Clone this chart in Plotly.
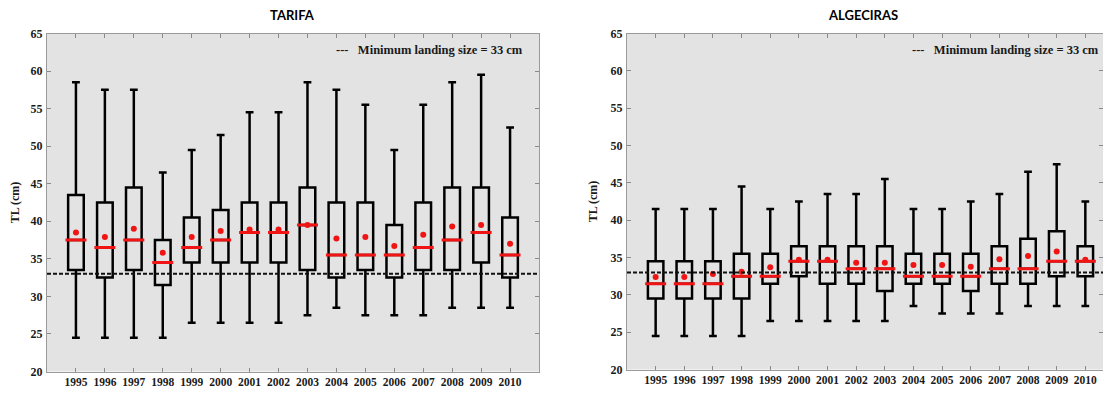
import plotly.graph_objects as go

# ---------------- data ----------------
YEARS = [1995, 1996, 1997, 1998, 1999, 2000, 2001, 2002,
         2003, 2004, 2005, 2006, 2007, 2008, 2009, 2010]

TARIFA_LOW = [24.5, 24.5, 24.5, 24.5, 26.5, 26.5, 26.5, 26.5,
              27.5, 28.5, 27.5, 27.5, 27.5, 28.5, 28.5, 28.5]
TARIFA_Q1 = [33.5, 32.5, 33.5, 31.5, 34.5, 34.5, 34.5, 34.5,
             33.5, 32.5, 33.5, 32.5, 33.5, 33.5, 34.5, 32.5]
TARIFA_MED = [37.5, 36.5, 37.5, 34.5, 36.5, 37.5, 38.5, 38.5,
              39.5, 35.5, 35.5, 35.5, 36.5, 37.5, 38.5, 35.5]
TARIFA_Q3 = [43.5, 42.5, 44.5, 37.5, 40.5, 41.5, 42.5, 42.5,
             44.5, 42.5, 42.5, 39.5, 42.5, 44.5, 44.5, 40.5]
TARIFA_HIGH = [58.5, 57.5, 57.5, 46.5, 49.5, 51.5, 54.5, 54.5,
               58.5, 57.5, 55.5, 49.5, 55.5, 58.5, 59.5, 52.5]
TARIFA_MEAN = [38.5, 37.9, 39.0, 35.8, 37.9, 38.7, 38.9, 38.9,
               39.5, 37.7, 37.9, 36.7, 38.2, 39.3, 39.5, 37.0]

ALG_LOW = [24.5, 24.5, 24.5, 24.5, 26.5, 26.5, 26.5, 26.5,
           26.5, 28.5, 27.5, 27.5, 27.5, 28.5, 28.5, 28.5]
ALG_Q1 = [29.5, 29.5, 29.5, 29.5, 31.5, 32.5, 31.5, 31.5,
          30.5, 31.5, 31.5, 30.5, 31.5, 31.5, 32.5, 32.5]
ALG_MED = [31.5, 31.5, 31.5, 32.5, 32.5, 34.5, 34.5, 33.5,
           33.5, 32.5, 32.5, 32.5, 33.5, 33.5, 34.5, 34.5]
ALG_Q3 = [34.5, 34.5, 34.5, 35.5, 35.5, 36.5, 36.5, 36.5,
          36.5, 35.5, 35.5, 35.5, 36.5, 37.5, 38.5, 36.5]
ALG_HIGH = [41.5, 41.5, 41.5, 44.5, 41.5, 42.5, 43.5, 43.5,
            45.5, 41.5, 41.5, 42.5, 43.5, 46.5, 47.5, 42.5]
ALG_MEAN = [32.4, 32.4, 32.8, 33.1, 33.7, 34.7, 34.7, 34.3,
            34.3, 34.0, 34.0, 33.75, 34.75, 35.2, 35.8, 34.7]

MIN_LANDING_SIZE = 33
PANEL_TITLES = ["TARIFA", "ALGECIRAS"]
Y_TITLE = "TL (cm)"
REF_LABEL = "Minimum landing size = 33 cm"

# ---------------- style ----------------
PAGE_MARGIN = 8                      # default body margin of the html page
W, H = 1111 - 2 * PAGE_MARGIN, 396 - 2 * PAGE_MARGIN
BG = "#e3e3e3"
RED = "#f01414"
SERIF = "Liberation Serif"


def fx(px):
    return (px - PAGE_MARGIN) / W


def fy(py):
    return 1 - (py - PAGE_MARGIN) / H


panels = [
    dict(low=TARIFA_LOW, q1=TARIFA_Q1, med=TARIFA_MED, q3=TARIFA_Q3,
         high=TARIFA_HIGH, mean=TARIFA_MEAN,
         xdom=[fx(47), fx(539)], ydom=[fy(371.5), fy(33.5)],
         xrange=[1994, 2011], title_x=fx(292), legend_x=0.972),
    dict(low=ALG_LOW, q1=ALG_Q1, med=ALG_MED, q3=ALG_Q3,
         high=ALG_HIGH, mean=ALG_MEAN,
         xdom=[fx(627), 1.0], ydom=[fy(369.5), fy(33.5)],
         xrange=[1994, 2011 - 11 / 28.7], title_x=fx(863), legend_x=0.995),
]

fig = go.Figure()
layout = dict(
    width=W, height=H,
    margin=dict(l=0, r=0, t=0, b=0, autoexpand=False),
    paper_bgcolor="white",
    plot_bgcolor=BG,
    showlegend=False,
    annotations=[],
    shapes=[],
)

for i, p in enumerate(panels):
    n = "" if i == 0 else str(i + 1)
    xa, ya = "x" + n, "y" + n

    fig.add_trace(go.Box(
        x=YEARS, q1=p["q1"], median=p["med"], q3=p["q3"],
        lowerfence=p["low"], upperfence=p["high"],
        width=0.54, whiskerwidth=0.5,
        line=dict(color="black", width=2.5),
        fillcolor="rgba(0,0,0,0)",
        boxpoints=False, hoverinfo="skip",
        xaxis=xa, yaxis=ya, showlegend=False,
    ))
    fig.add_trace(go.Scatter(
        x=YEARS, y=p["med"], mode="markers",
        marker=dict(symbol="line-ew", size=15,
                    line=dict(color=RED, width=3)),
        xaxis=xa, yaxis=ya, showlegend=False, hoverinfo="skip",
    ))
    fig.add_trace(go.Scatter(
        x=YEARS, y=p["mean"], mode="markers",
        marker=dict(symbol="circle", size=6, color=RED),
        xaxis=xa, yaxis=ya, showlegend=False, hoverinfo="skip",
    ))

    axis_common = dict(
        showgrid=False, zeroline=False,
        showline=True, linecolor="#9a9a9a", linewidth=1, mirror="ticks",
        ticks="inside", ticklen=4, tickwidth=1, tickcolor="#8a8a8a",
        tickfont=dict(family=SERIF, size=12, color="#1a1a1a", weight="bold"),
    )
    layout["xaxis" + n] = dict(
        axis_common, domain=p["xdom"], range=p["xrange"],
        tickmode="array", tickvals=YEARS, ticktext=[str(y) for y in YEARS],
        anchor=ya, ticklabelstandoff=0,
        tickfont=dict(family=SERIF, size=11.5, color="#1a1a1a",
                      weight="bold"),
    )
    layout["yaxis" + n] = dict(
        axis_common, domain=p["ydom"], range=[20, 65], dtick=5,
        tick0=20, anchor=xa, ticklabelstandoff=1,
        title=dict(text=Y_TITLE, standoff=10,
                   font=dict(family=SERIF, size=12, color="#1a1a1a",
                             weight="bold")),
    )

    layout["shapes"].append(dict(
        type="line", xref=xa + " domain", yref=ya,
        x0=0, x1=1, y0=MIN_LANDING_SIZE, y1=MIN_LANDING_SIZE,
        line=dict(color="#111111", width=2, dash="4px,2px"),
        layer="above",
    ))

    layout["annotations"].append(dict(
        xref=xa + " domain", yref=ya + " domain",
        x=p["legend_x"], y=0.951, xanchor="right",
        yanchor="middle",
        text="---&nbsp;&nbsp;&nbsp;" + REF_LABEL, showarrow=False,
        font=dict(family=SERIF, size=12.5, color="#1a1a1a", weight="bold"),
    ))

    layout["annotations"].append(dict(
        xref="paper", yref="paper", x=p["title_x"], y=fy(15),
        xanchor="center", yanchor="middle",
        text=PANEL_TITLES[i], showarrow=False,
        font=dict(family="Lato", size=13, color="black", weight="bold"),
    ))

fig.update_layout(layout)
fig.write_html("out.html")
